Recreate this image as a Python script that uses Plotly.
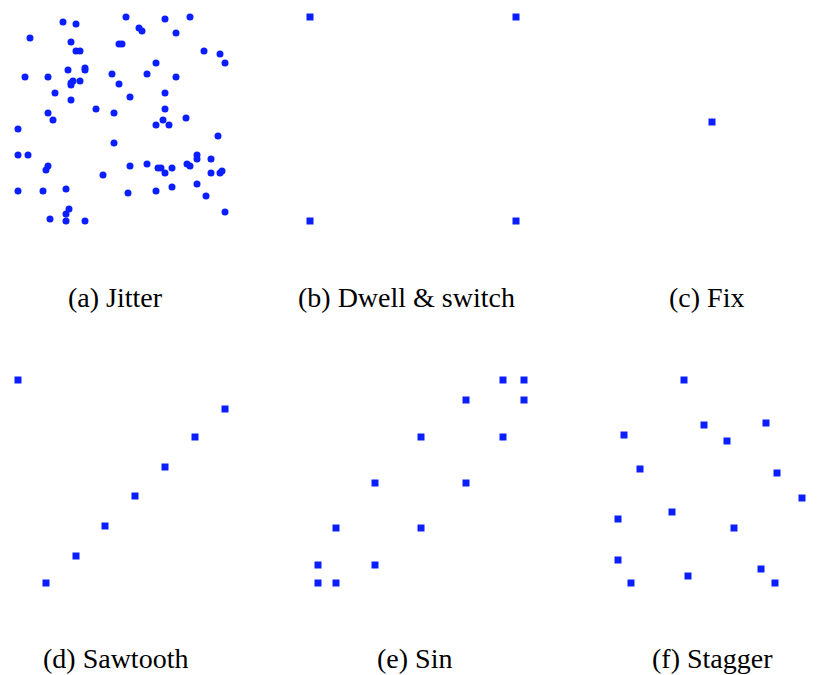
import plotly.graph_objects as go

# Panel-local point coordinates (x right, y down)
jitter_x = [51, 64, 114, 153, 178, 127, 130, 164, 18, 59, 107, 110, 64, 68, 192, 208, 213, 144,
            56, 73, 73, 13, 36, 100, 135, 164, 59, 61, 59, 68, 107, 43, 153, 118, 59, 84, 153,
            36, 102, 41, 151, 174, 144, 157, 6, 206, 102, 6, 16, 185, 36, 34, 118, 135, 146, 149,
            153, 160, 175, 178, 185, 199, 199, 208, 210, 91, 6, 31, 54, 116, 144, 160, 185, 194,
            213, 38, 54, 54, 57, 73]
jitter_y = [12, 14, 7, 9, 7, 18, 21, 23, 28, 32, 34, 34, 41, 41, 41, 44, 53, 53,
            60, 58, 60, 67, 67, 64, 64, 67, 73, 71, 75, 71, 74, 83, 83, 87, 90, 99, 99,
            103, 103, 110, 110, 108, 115, 115, 119, 126, 133, 145, 145, 145, 156, 160, 156, 154, 158, 158,
            163, 158, 154, 156, 149, 149, 163, 163, 161, 165, 181, 181, 179, 183, 181, 177, 174, 186,
            202, 209, 211, 204, 199, 211]

dwell_x = [10, 216, 10, 216]
dwell_y = [7, 7, 211, 211]

fix_x = [116]
fix_y = [112]

saw_x = [6, 213, 183, 153, 123, 93, 64, 34]
saw_y = [8, 37, 65, 95, 124, 154, 184, 211]

sin_x = [198, 219, 161, 219, 116, 198, 70, 161, 31, 116, 13, 70, 13, 31]
sin_y = [8, 8, 28, 28, 65, 65, 111, 111, 156, 156, 193, 193, 211, 211]

stag_x = [86, 106, 168, 26, 129, 42, 179, 204, 20, 74, 136, 20, 33, 90, 163, 177]
stag_y = [8, 53, 51, 63, 69, 97, 101, 126, 147, 140, 156, 188, 211, 204, 197, 211]

captions = ["(a) Jitter", "(b) Dwell & switch", "(c) Fix",
            "(d) Sawtooth", "(e) Sin", "(f) Stagger"]

W, H = 818, 675
PAD = 8  # page body margin in the browser
PW, PH = 220, 215
# panel top-left corners in page pixels
origins = [(12, 10), (300, 10), (596, 10), (12, 372), (305, 372), (598, 372)]
caption_pos = [(115, 297), (406, 297), (706, 297), (115, 658), (414, 658), (712, 658)]

series = [(jitter_x, jitter_y, "circle"), (dwell_x, dwell_y, "square"),
          (fix_x, fix_y, "square"), (saw_x, saw_y, "square"),
          (sin_x, sin_y, "square"), (stag_x, stag_y, "square")]

BLUE = "#0a1eff"
FONT = "'Liberation Serif', 'Times New Roman', Times, serif"
fig = go.Figure()
layout = dict(width=W, height=H, margin=dict(l=0, r=0, t=0, b=0),
              paper_bgcolor="white", plot_bgcolor="white", showlegend=False,
              font=dict(family=FONT))
annotations = []
for i, ((xs, ys, sym), (ox, oy), cap, (cx, cy)) in enumerate(zip(series, origins, captions, caption_pos)):
    n = "" if i == 0 else str(i + 1)
    ox, oy, cx, cy = ox - PAD, oy - PAD, cx - PAD, cy - PAD
    fig.add_trace(go.Scatter(x=xs, y=ys, mode="markers", xaxis="x" + n, yaxis="y" + n,
                             cliponaxis=False,
                             marker=dict(symbol=sym, size=7, color=BLUE, line=dict(width=0))))
    layout["xaxis" + n] = dict(domain=[ox / W, min(1, (ox + PW) / W)], range=[0, PW], visible=False,
                               anchor="y" + n, fixedrange=True)
    layout["yaxis" + n] = dict(domain=[max(0, 1 - (oy + PH) / H), min(1, 1 - oy / H)], range=[PH, 0],
                               visible=False, anchor="x" + n, fixedrange=True)
    annotations.append(dict(text=cap, x=cx / W, y=1 - cy / H, xref="paper", yref="paper",
                            xanchor="center", yanchor="middle", showarrow=False,
                            font=dict(family=FONT, size=28, color="black")))
layout["annotations"] = annotations
fig.update_layout(**layout)
fig.write_html("out.html", config={"displayModeBar": False})
